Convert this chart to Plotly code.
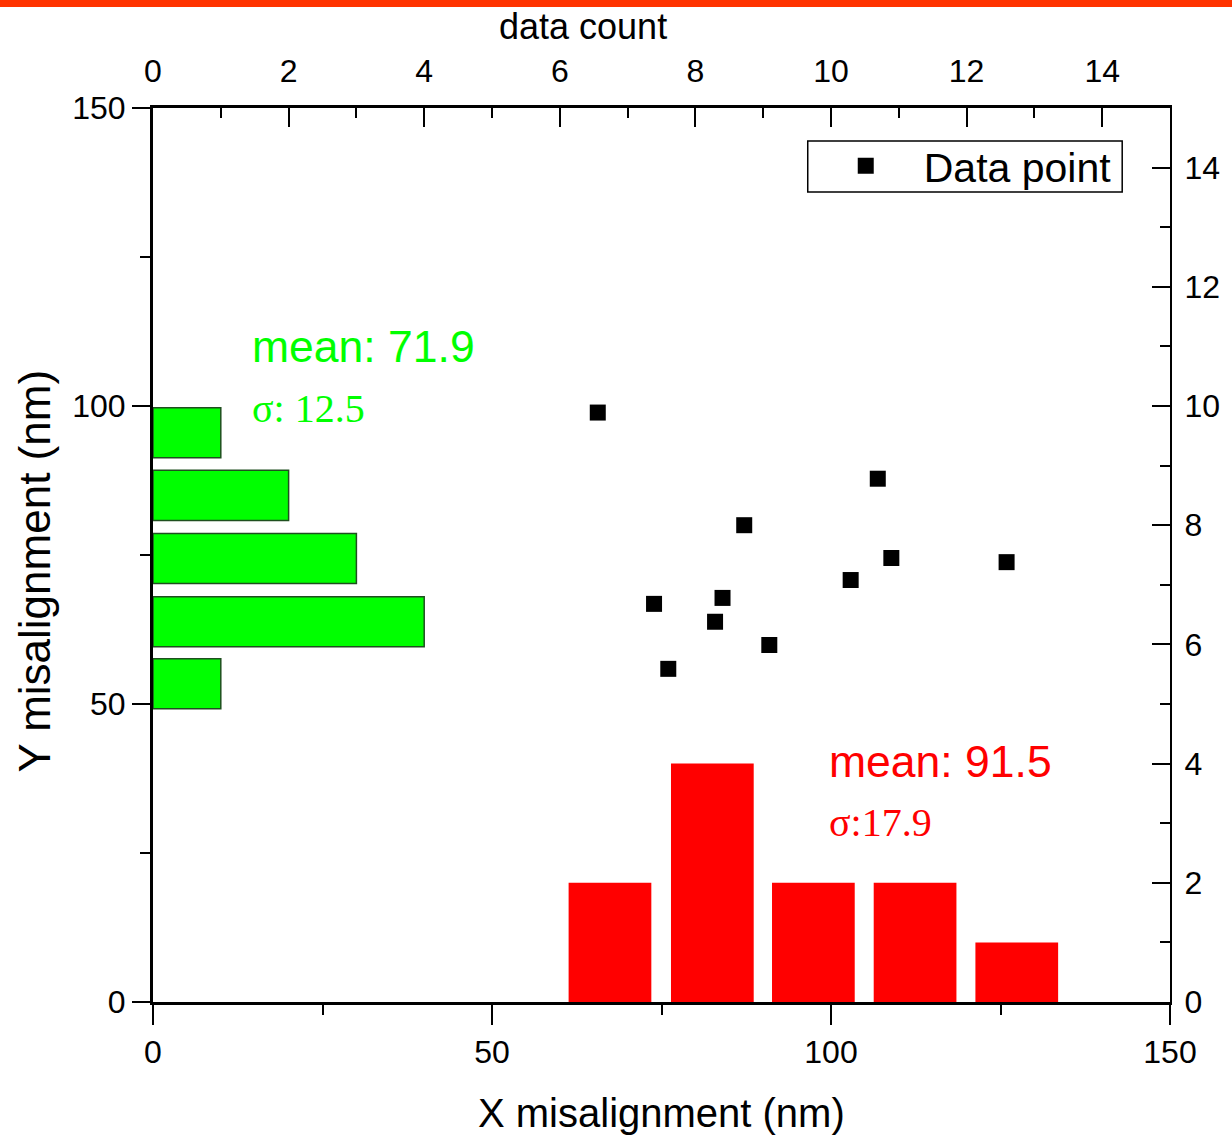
import plotly.graph_objects as go

# Scatter data (nm)
x_mis = [65.6, 106.9, 87.2, 108.9, 125.9, 102.9, 73.9, 84.0, 82.9, 90.9, 76.0]
y_mis = [98.9, 87.8, 80.0, 74.5, 73.8, 70.8, 66.8, 67.8, 63.8, 59.9, 55.9]

# X histogram (bin centers in nm, counts)
x_bins = [67.4, 82.5, 97.4, 112.4, 127.4]
x_counts = [2, 4, 2, 2, 1]

# Y histogram (bin centers in nm, counts)
y_bins = [53.4, 63.8, 74.4, 85.0, 95.5]
y_counts = [1, 4, 3, 2, 1]

FONT = "Arial, Liberation Sans, sans-serif"
SERIF = "Times New Roman, Liberation Serif, serif"

fig = go.Figure()

fig.add_trace(go.Bar(
    x=x_bins, y=x_counts, width=12.2, xaxis="x", yaxis="y2",
    marker=dict(color="#FF0000", line=dict(width=0)), showlegend=False))

fig.add_trace(go.Bar(
    x=y_counts, y=y_bins, width=8.4, orientation="h", xaxis="x2", yaxis="y",
    marker=dict(color="#00FF00", line=dict(color="#1f4f1f", width=1.5)), showlegend=False))

fig.add_trace(go.Scatter(
    x=x_mis, y=y_mis, mode="markers", name="Data point", xaxis="x", yaxis="y",
    marker=dict(symbol="square", size=16, color="black")))

tickfont = dict(family=FONT, size=32, color="black")

fig.update_layout(
    width=1232, height=1137,
    margin=dict(l=153, r=53, t=108, b=135),
    paper_bgcolor="white", plot_bgcolor="white",
    barmode="overlay",
    xaxis=dict(range=[0, 150], tickvals=[0, 50, 100, 150], ticks="outside", ticklen=20, tickwidth=2,
               tickcolor="black", showline=True, linewidth=3, linecolor="black", showgrid=False,
               zeroline=False, tickfont=tickfont,
               minor=dict(tickvals=[25, 75, 125], ticks="outside", ticklen=10, tickwidth=2, tickcolor="black")),
    yaxis=dict(range=[0, 150], tickvals=[0, 50, 100, 150], ticks="outside", ticklen=18, tickwidth=2,
               tickcolor="black", showline=True, linewidth=3, linecolor="black", showgrid=False,
               zeroline=False, tickfont=tickfont,
               minor=dict(tickvals=[25, 75, 125], ticks="outside", ticklen=10, tickwidth=2, tickcolor="black")),
    xaxis2=dict(range=[0, 15], overlaying="x", side="top", anchor="y", tickvals=list(range(0, 15, 2)),
                ticks="inside", ticklen=19, tickwidth=2, tickcolor="black", showline=True, linewidth=3,
                linecolor="black", showgrid=False, zeroline=False, tickfont=tickfont, ticklabelstandoff=10,
                minor=dict(tickvals=list(range(1, 15, 2)), ticks="inside", ticklen=10, tickwidth=2, tickcolor="black")),
    yaxis2=dict(range=[0, 15], overlaying="y", side="right", anchor="x", tickvals=list(range(0, 15, 2)),
                ticks="inside", ticklen=18, tickwidth=2, tickcolor="black", showline=True, linewidth=2,
                linecolor="black", showgrid=False, zeroline=False, tickfont=tickfont, ticklabelstandoff=6,
                minor=dict(tickvals=list(range(1, 15, 2)), ticks="inside", ticklen=10, tickwidth=2, tickcolor="black")),
    legend=dict(x=0.6438, y=0.9351, xanchor="left", yanchor="middle", bgcolor="rgba(0,0,0,0)",
                borderwidth=0, font=dict(family=FONT, size=41, color="black"),
                itemwidth=106),
    showlegend=True,
)

annotations = [
    dict(text="data count", x=0.4227, y=1.0917, font=dict(family=FONT, size=36, color="black")),
    dict(text="X misalignment (nm)", x=0.5, y=-0.1242, font=dict(family=FONT, size=40, color="black")),
    dict(text="Y misalignment (nm)", x=-0.1174, y=0.4821, textangle=-90, font=dict(family=FONT, size=44, color="black")),
    dict(text="mean: 71.9", x=0.0949, y=0.7327, xanchor="left", font=dict(family=FONT, size=44.5, color="#00FF00")),
    dict(text="σ: 12.5", x=0.0949, y=0.6644, xanchor="left", font=dict(family=SERIF, size=40, color="#00FF00")),
    dict(text="mean: 91.5", x=0.6624, y=0.2685, xanchor="left", font=dict(family=FONT, size=44.5, color="#FF0000")),
    dict(text="σ:17.9", x=0.6624, y=0.2013, xanchor="left", font=dict(family=SERIF, size=40, color="#FF0000")),
]
for a in annotations:
    a.setdefault("xanchor", "center")
    a.setdefault("yanchor", "middle")
    fig.add_annotation(xref="paper", yref="paper", showarrow=False, **a)

# legend frame
fig.add_shape(type="rect", xref="paper", yref="paper", x0=0.6438, x1=0.953, y0=0.906, y1=0.963,
              fillcolor="rgba(0,0,0,0)", line=dict(color="black", width=1.5), layer="above")

# orange stripe at top of the slide
fig.add_shape(type="rect", xref="paper", yref="paper", x0=-0.16, x1=1.07, y0=1.1130, y1=1.1300,
              fillcolor="#FF3300", line=dict(width=0), layer="above")

fig.write_html("out.html", config={"displayModeBar": False},
               post_script="document.body.style.margin='0';document.body.style.overflow='hidden';")
